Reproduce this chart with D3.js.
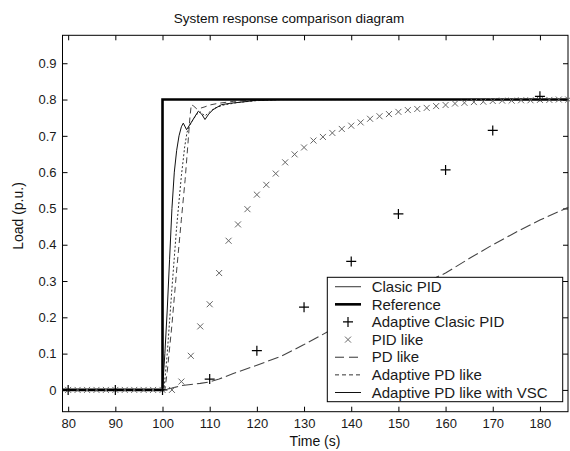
<!DOCTYPE html>
<html>
<head>
<meta charset="utf-8">
<script src="https://cdn.jsdelivr.net/npm/d3@7"></script>
<style>
  html, body { margin: 0; padding: 0; background: #ffffff; }
  svg { display: block; font-family: "Liberation Sans", Arial, sans-serif; }
</style>
</head>
<body>
<svg id="chart" width="570" height="451"></svg>
<script>
// ---------------- data ----------------
const xTicks = [80, 90, 100, 110, 120, 130, 140, 150, 160, 170, 180];
const yTicks = [0, 0.1, 0.2, 0.3, 0.4, 0.5, 0.6, 0.7, 0.8, 0.9];

const seriesNames = ["Clasic PID", "Reference", "Adaptive Clasic PID", "PID like",
                     "PD like", "Adaptive PD like", "Adaptive PD like with VSC"];

// Reference step
const refT = [78.8, 100, 100, 186];
const refV = [0, 0, 0.8, 0.8];

// Clasic PID (slow curve)
const clasicT = [78.8, 100, 102, 104, 106, 108, 110, 112, 115, 120, 125, 130, 135, 140, 145, 150, 155, 160, 165, 170, 175, 180, 186];
const clasicV = [0, 0, 0.005, 0.012, 0.015, 0.018, 0.022, 0.03, 0.045, 0.068, 0.092, 0.125, 0.16, 0.195, 0.23, 0.262, 0.292, 0.322, 0.362, 0.4, 0.435, 0.468, 0.503];

// Adaptive Clasic PID (+ markers)
const adClasicT = [80, 90, 100, 110, 120, 130, 140, 150, 160, 170, 180];
const adClasicV = [0, 0, 0, 0.03, 0.108, 0.228, 0.354, 0.485, 0.606, 0.715, 0.809];

// PID like (x markers)
const pidLikeT = [80, 82, 84, 86, 88, 90, 92, 94, 96, 98, 100, 102, 104, 106, 108, 110, 112, 114, 116, 118,
                  120, 122, 124, 126, 128, 130, 132, 134, 136, 138, 140, 142, 144, 146, 148, 150, 152, 154, 156, 158,
                  160, 162, 164, 166, 168, 170, 172, 174, 176, 178, 180, 182, 184, 186];
const pidLikeV = [0, 0, 0, 0, 0, 0, 0, 0, 0, 0, 0, 0, 0.023, 0.094, 0.175, 0.236, 0.322, 0.411, 0.456, 0.498,
                  0.538, 0.565, 0.596, 0.627, 0.649, 0.668, 0.687, 0.697, 0.708, 0.719, 0.728, 0.737, 0.747, 0.754, 0.76, 0.766, 0.771, 0.774, 0.777, 0.782,
                  0.785, 0.789, 0.791, 0.793, 0.794, 0.796, 0.797, 0.797, 0.798, 0.798, 0.799, 0.799, 0.8, 0.8];

// PD like (dashed, overshoot)
const pdT = [78.8, 100.5, 101, 102, 103, 104, 104.8, 105.4, 105.8, 106.1, 106.6, 107.2, 108, 109, 110, 112, 115, 120, 125, 186];
const pdV = [0, 0, 0.05, 0.18, 0.33, 0.47, 0.58, 0.68, 0.75, 0.786, 0.782, 0.775, 0.776, 0.78, 0.785, 0.79, 0.795, 0.798, 0.8, 0.8];

// Adaptive PD like (dotted)
const adPdT = [78.8, 100.3, 101, 102, 103, 104, 104.7, 105.2, 105.8, 106.5, 107.3, 108, 109, 110, 111, 113, 116, 120, 125, 186];
const adPdV = [0, 0, 0.1, 0.28, 0.45, 0.59, 0.67, 0.71, 0.73, 0.745, 0.76, 0.766, 0.755, 0.766, 0.776, 0.785, 0.792, 0.797, 0.8, 0.8];

// Adaptive PD like with VSC (solid)
const vscT = [78.8, 100, 100.5, 101, 101.5, 102, 102.5, 103, 103.5, 104, 104.4, 105.1, 106, 106.9, 107.6, 108.3, 109, 109.8, 110.7, 112.5, 114.5, 116.8, 120, 125, 186];
const vscV = [0, 0, 0.1, 0.22, 0.36, 0.5, 0.6, 0.66, 0.7, 0.725, 0.735, 0.717, 0.735, 0.754, 0.768, 0.76, 0.745, 0.76, 0.772, 0.786, 0.79, 0.793, 0.798, 0.8, 0.8];

// ---------------- chart ----------------
const svg = d3.select("#chart");
const L = 62.5, R = 568, T = 35.3, B = 411.7;
const x = d3.scaleLinear().domain([78.8, 185.95]).range([L, R]);
const y = d3.scaleLinear().domain([-0.06, 0.977]).range([B, T]);

svg.append("rect").attr("x", 0).attr("y", 0).attr("width", 570).attr("height", 451).attr("fill", "#ffffff");

// axes
const tickFont = 13;
const gB = svg.append("g").attr("transform", `translate(0,${B})`)
  .call(d3.axisBottom(x).tickValues(xTicks).tickSizeInner(-5).tickSizeOuter(0).tickPadding(7).tickFormat(d3.format("d")));
const gT = svg.append("g").attr("transform", `translate(0,${T})`)
  .call(d3.axisTop(x).tickValues(xTicks).tickSizeInner(-5).tickSizeOuter(0).tickFormat(""));
const gL = svg.append("g").attr("transform", `translate(${L},0)`)
  .call(d3.axisLeft(y).tickValues(yTicks).tickSizeInner(-5).tickSizeOuter(0).tickPadding(6)
    .tickFormat(d => d === 0 ? "0" : d3.format(".1f")(d)));
const gR = svg.append("g").attr("transform", `translate(${R},0)`)
  .call(d3.axisRight(y).tickValues(yTicks).tickSizeInner(-5).tickSizeOuter(0).tickFormat(""));
[gB, gT, gL, gR].forEach(g => {
  g.select(".domain").remove();
  g.selectAll(".tick line").attr("stroke", "#000").attr("stroke-width", 1);
  g.selectAll("text").attr("font-size", tickFont).attr("fill", "#1a1a1a")
    .attr("font-family", "'Liberation Sans', Arial, sans-serif");
});

// box
svg.append("rect").attr("x", L).attr("y", T).attr("width", R - L).attr("height", B - T)
  .attr("fill", "none").attr("stroke", "#000").attr("stroke-width", 1);

const line = d3.line().x(d => x(d[0])).y(d => y(d[1]));
const zip = (a, b) => a.map((t, i) => [t, b[i]]);

const plot = svg.append("g");

// Clasic PID
plot.append("path").datum(zip(clasicT, clasicV)).attr("d", line)
  .attr("fill", "none").attr("stroke", "#444").attr("stroke-width", 1.1).attr("stroke-dasharray", "11,4");
// PD like
plot.append("path").datum(zip(pdT, pdV)).attr("d", line)
  .attr("fill", "none").attr("stroke", "#444").attr("stroke-width", 1).attr("stroke-dasharray", "6,4");
// Adaptive PD like
plot.append("path").datum(zip(adPdT, adPdV)).attr("d", line)
  .attr("fill", "none").attr("stroke", "#333").attr("stroke-width", 1).attr("stroke-dasharray", "2,2");
// VSC
plot.append("path").datum(zip(vscT, vscV)).attr("d", line)
  .attr("fill", "none").attr("stroke", "#111").attr("stroke-width", 1);
// Reference
plot.append("path").datum(zip(refT, refV)).attr("d", line)
  .attr("fill", "none").attr("stroke", "#000").attr("stroke-width", 2.6);

// PID like x markers
const xs = 3;
plot.append("g").selectAll("path").data(zip(pidLikeT, pidLikeV)).join("path")
  .attr("d", d => {
    const cx = x(d[0]), cy = y(d[1]);
    return `M${cx - xs},${cy - xs}L${cx + xs},${cy + xs}M${cx - xs},${cy + xs}L${cx + xs},${cy - xs}`;
  })
  .attr("stroke", "#666").attr("stroke-width", 1).attr("fill", "none");

// Adaptive Clasic PID + markers
const ps = 5;
plot.append("g").selectAll("path").data(zip(adClasicT, adClasicV)).join("path")
  .attr("d", d => {
    const cx = x(d[0]), cy = y(d[1]);
    return `M${cx - ps},${cy}L${cx + ps},${cy}M${cx},${cy - ps}L${cx},${cy + ps}`;
  })
  .attr("stroke", "#000").attr("stroke-width", 1.2).attr("fill", "none");

// title and labels
svg.append("text").attr("x", 289).attr("y", 23).attr("text-anchor", "middle")
  .attr("font-size", 13.5).attr("fill", "#111").text("System response comparison diagram");
svg.append("text").attr("x", 315).attr("y", 446).attr("text-anchor", "middle")
  .attr("font-size", 14).attr("fill", "#111").text("Time (s)");
svg.append("text").attr("transform", "translate(23,216) rotate(-90)").attr("text-anchor", "middle")
  .attr("font-size", 14).attr("fill", "#111").text("Load (p.u.)");

// legend
const lg = svg.append("g");
lg.append("rect").attr("x", 327.3).attr("y", 277.3).attr("width", 235.4).attr("height", 124.4)
  .attr("fill", "#ffffff").attr("stroke", "#000").attr("stroke-width", 1);
const legendY = d3.scalePoint().domain(seriesNames).range([286.7, 392.5]);
const styles = {
  "Clasic PID": {type: "line", stroke: "#444", w: 1.1, dash: null},
  "Reference": {type: "line", stroke: "#000", w: 2.6, dash: null},
  "Adaptive Clasic PID": {type: "plus"},
  "PID like": {type: "x"},
  "PD like": {type: "line", stroke: "#333", w: 1, dash: "9,5"},
  "Adaptive PD like": {type: "line", stroke: "#333", w: 1, dash: "4,3"},
  "Adaptive PD like with VSC": {type: "line", stroke: "#111", w: 1, dash: null}
};
seriesNames.forEach(name => {
  const cy = legendY(name);
  const s = styles[name];
  if (s.type === "line") {
    lg.append("line").attr("x1", 335).attr("x2", 361).attr("y1", cy).attr("y2", cy)
      .attr("stroke", s.stroke).attr("stroke-width", s.w).attr("stroke-dasharray", s.dash);
  } else if (s.type === "plus") {
    lg.append("path").attr("d", `M${348 - ps},${cy}L${348 + ps},${cy}M348,${cy - ps}L348,${cy + ps}`)
      .attr("stroke", "#000").attr("stroke-width", 1.2);
  } else {
    lg.append("path").attr("d", `M${348 - xs},${cy - xs}L${348 + xs},${cy + xs}M${348 - xs},${cy + xs}L${348 + xs},${cy - xs}`)
      .attr("stroke", "#666").attr("stroke-width", 1);
  }
  lg.append("text").attr("x", 371.7).attr("y", cy + 5.2).attr("font-size", 15).attr("fill", "#1a1a1a").text(name);
});
</script>
</body>
</html>
